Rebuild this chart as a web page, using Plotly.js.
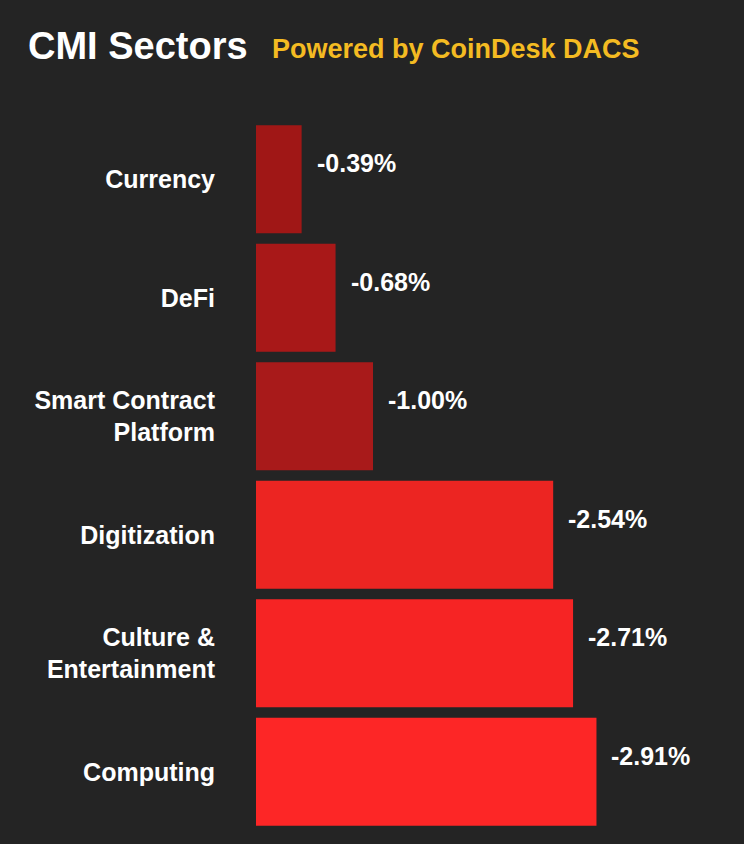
<!DOCTYPE html>
<html>
<head>
<meta charset="utf-8">
<script src="https://cdn.plot.ly/plotly-3.0.1.min.js"></script>
<style>html,body{margin:0;padding:0;background:#242424;}</style>
</head>
<body>
<div id="chart" style="width:744px;height:844px;"></div>
<script>
const sectors = ["Currency", "DeFi", "Smart Contract<br>Platform", "Digitization", "Culture &<br>Entertainment", "Computing"];
const changes = [-0.39, -0.68, -1.00, -2.54, -2.71, -2.91];
const valueLabels = ["-0.39%", "-0.68%", "-1.00%", "-2.54%", "-2.71%", "-2.91%"];
const barColors = ["#a01716", "#a81818", "#a81a1a", "#ec2522", "#f62424", "#fd2626"];

const font = "'Liberation Sans', Arial, sans-serif";

const trace = {
  type: "bar",
  orientation: "h",
  y: sectors,
  x: changes,
  marker: {color: barColors, line: {width: 0}},
  hoverinfo: "skip"
};

const annotations = sectors.map((s, i) => ({
  x: changes[i], y: s, xref: "x", yref: "y",
  text: "<b>" + valueLabels[i] + "</b>",
  showarrow: false, xanchor: "left", yanchor: "middle",
  xshift: 13, yshift: 16,
  font: {family: font, size: 25, color: "#ffffff"}
}));

annotations.push({
  xref: "paper", yref: "paper",
  x: (270 - 256) / 468, y: 1 + (119.5 - 48) / 712,
  xanchor: "left", yanchor: "middle",
  text: "<b>Powered by CoinDesk DACS</b>",
  showarrow: false,
  font: {family: font, size: 27, color: "#f4bb22"}
});

const layout = {
  width: 744, height: 844,
  paper_bgcolor: "#242424", plot_bgcolor: "#242424",
  margin: {l: 256, r: 20, t: 119.5, b: 12.5},
  title: {
    text: "<b>CMI Sectors</b>",
    x: 28 / 744, xanchor: "left", xref: "container",
    y: 1 - 46 / 844, yanchor: "middle", yref: "container",
    font: {family: font, size: 38, color: "#ffffff"}
  },
  showlegend: false,
  bargap: 0.09,
  xaxis: {range: [0, -4.0], visible: false, fixedrange: true},
  yaxis: {
    categoryorder: "array", categoryarray: sectors,
    autorange: "reversed",
    showgrid: false, zeroline: false, showline: false, ticks: "",
    ticklabelstandoff: 40,
    tickfont: {family: font, size: 25, color: "#ffffff", weight: "bold"}
  },
  annotations: annotations
};

Plotly.newPlot("chart", [trace], layout, {displayModeBar: false, staticPlot: true});
</script>
</body>
</html>
